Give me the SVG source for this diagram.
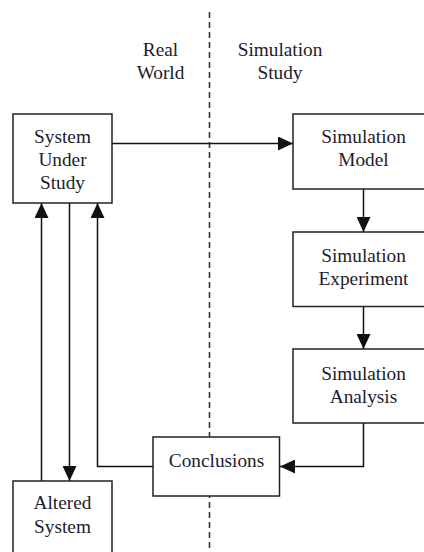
<svg xmlns="http://www.w3.org/2000/svg" width="424" height="552" viewBox="0 0 424 552">
  <style>
    .box { fill: #fff; stroke: #222; stroke-width: 1.5; }
    .line { fill: none; stroke: #111; stroke-width: 1.5; }
    .divider { fill: none; stroke: #2a3a2a; stroke-width: 1.6; stroke-dasharray: 6 4; }
    text { font-family: "Liberation Serif", "Times New Roman", serif; font-size: 19.3px; fill: #1c1c2c; text-anchor: middle; }
  </style>
  <defs>
    <marker id="arrow" viewBox="0 0 15 14" refX="15" refY="7" markerWidth="15" markerHeight="14" markerUnits="userSpaceOnUse" orient="auto">
      <path d="M0,0 L15,7 L0,14 Z" fill="#111"/>
    </marker>
  </defs>

  <rect width="424" height="552" fill="#fff"/>

  <!-- boundary between the real world and the simulation study -->
  <line class="divider" x1="209.5" y1="12" x2="209.5" y2="552"/>

  <g id="region-labels">
    <text x="160.5" y="56">Real</text>
    <text x="160.5" y="79">World</text>
    <text x="280" y="56">Simulation</text>
    <text x="280" y="79">Study</text>
  </g>

  <g id="connectors">
    <line class="line" x1="112" y1="143.5" x2="293" y2="143.5" marker-end="url(#arrow)"/>
    <line class="line" x1="363.5" y1="189" x2="363.5" y2="232" marker-end="url(#arrow)"/>
    <line class="line" x1="363.5" y1="306.5" x2="363.5" y2="349" marker-end="url(#arrow)"/>
    <polyline class="line" points="363.5,423 363.5,466.5 280,466.5" marker-end="url(#arrow)"/>
    <polyline class="line" points="153,466.5 97.5,466.5 97.5,203" marker-end="url(#arrow)"/>
    <line class="line" x1="41.5" y1="481" x2="41.5" y2="203" marker-end="url(#arrow)"/>
    <line class="line" x1="69.5" y1="203" x2="69.5" y2="481" marker-end="url(#arrow)"/>
  </g>

  <g id="system-under-study">
    <rect class="box" x="13" y="114" width="99" height="89"/>
    <text x="62.5" y="143">System</text>
    <text x="62.5" y="166">Under</text>
    <text x="62.5" y="189">Study</text>
  </g>

  <g id="simulation-model">
    <rect class="box" x="293" y="114" width="140" height="75"/>
    <text x="363.5" y="143">Simulation</text>
    <text x="363.5" y="166">Model</text>
  </g>

  <g id="simulation-experiment">
    <rect class="box" x="293" y="232" width="140" height="74.5"/>
    <text x="363.5" y="261.5">Simulation</text>
    <text x="363.5" y="284.5">Experiment</text>
  </g>

  <g id="simulation-analysis">
    <rect class="box" x="293" y="349" width="140" height="74"/>
    <text x="363.5" y="379.5">Simulation</text>
    <text x="363.5" y="402.5">Analysis</text>
  </g>

  <g id="conclusions">
    <rect class="box" x="153" y="437" width="126.5" height="59"/>
    <text x="216.5" y="467">Conclusions</text>
  </g>

  <g id="altered-system">
    <rect class="box" x="13" y="481" width="99" height="80"/>
    <text x="62.5" y="509">Altered</text>
    <text x="62.5" y="533">System</text>
  </g>
</svg>
